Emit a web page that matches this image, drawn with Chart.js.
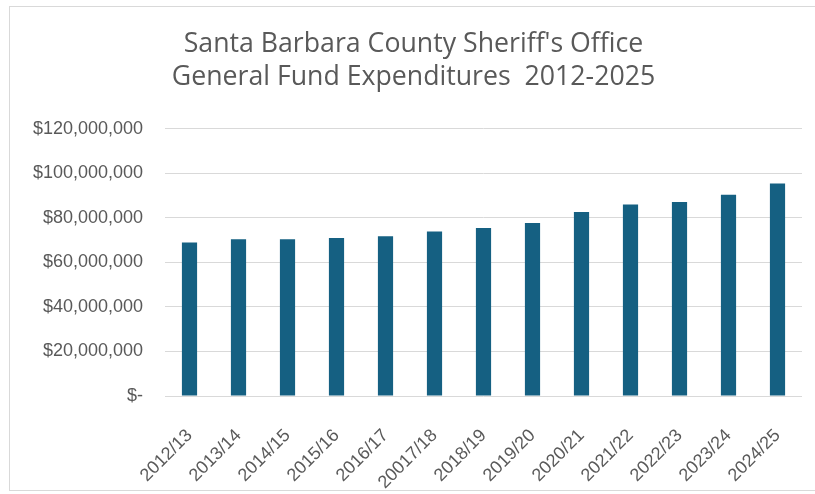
<!DOCTYPE html>
<html>
<head>
<meta charset="utf-8">
<script src="https://cdn.jsdelivr.net/npm/chart.js@4/dist/chart.umd.min.js"></script>
<style>
  html, body { margin: 0; padding: 0; background: #fff; }
  #wrap { position: relative; width: 815px; height: 494px; }
  #frame { position: absolute; left: 9px; top: 6px; width: 815px; height: 485px; border: 1px solid #d9d9d9; box-sizing: border-box; }
  canvas { position: absolute; left: 0; top: 0; }
</style>
</head>
<body>
<div id="wrap">
  <div id="frame"></div>
  <canvas id="myChart" width="815" height="494"></canvas>
</div>
<script>
const fiscalYears = ['2012/13', '2013/14', '2014/15', '2015/16', '2016/17', '20017/18', '2018/19',
                     '2019/20', '2020/21', '2021/22', '2022/23', '2023/24', '2024/25'];
const expenditures = [68900000, 70400000, 70400000, 71000000, 71800000, 73900000, 75400000,
                      77700000, 82600000, 86000000, 87100000, 90400000, 95400000];
const titleLines = ["Santa Barbara County Sheriff's Office", 'General Fund Expenditures  2012-2025'];

const grey = '#595959';

const ctx = document.getElementById('myChart').getContext('2d');
const myChart = new Chart(ctx, {
    type: 'bar',
    data: {
        labels: fiscalYears,
        datasets: [{
            label: 'Expenditures',
            data: expenditures,
            backgroundColor: '#156082',
            barPercentage: 0.31,
            categoryPercentage: 1
        }]
    },
    options: {
        responsive: false,
        animation: false,
        // left padding keeps the title centred where the original had it
        layout: { padding: { left: 25, right: 13, top: 0, bottom: 0 } },
        plugins: {
            legend: { display: false },
            tooltip: { enabled: false },
            title: {
                display: true,
                text: titleLines,
                color: grey,
                font: { family: '"Open Sans", sans-serif', size: 26.7, weight: 'normal', lineHeight: 1.27 },
                padding: { top: 27, bottom: 34 }
            }
        },
        scales: {
            x: {
                grid: { display: false },
                border: { display: false },
                ticks: {
                    color: grey,
                    font: { family: '"Liberation Sans", Arial, sans-serif', size: 18 },
                    minRotation: 45,
                    maxRotation: 45,
                    padding: 21
                },
                afterFit: (scale) => { scale.height = 98; }
            },
            y: {
                min: 0,
                max: 120000000,
                border: { display: false },
                grid: { color: '#d9d9d9', lineWidth: 1, drawTicks: false },
                ticks: {
                    stepSize: 20000000,
                    color: grey,
                    font: { family: '"Liberation Sans", Arial, sans-serif', size: 18 },
                    padding: 22,
                    callback: (v) => v === 0 ? '$-' : '$' + v.toLocaleString('en-US')
                },
                afterFit: (scale) => { scale.width = 140; }
            }
        }
    }
});
</script>
</body>
</html>
